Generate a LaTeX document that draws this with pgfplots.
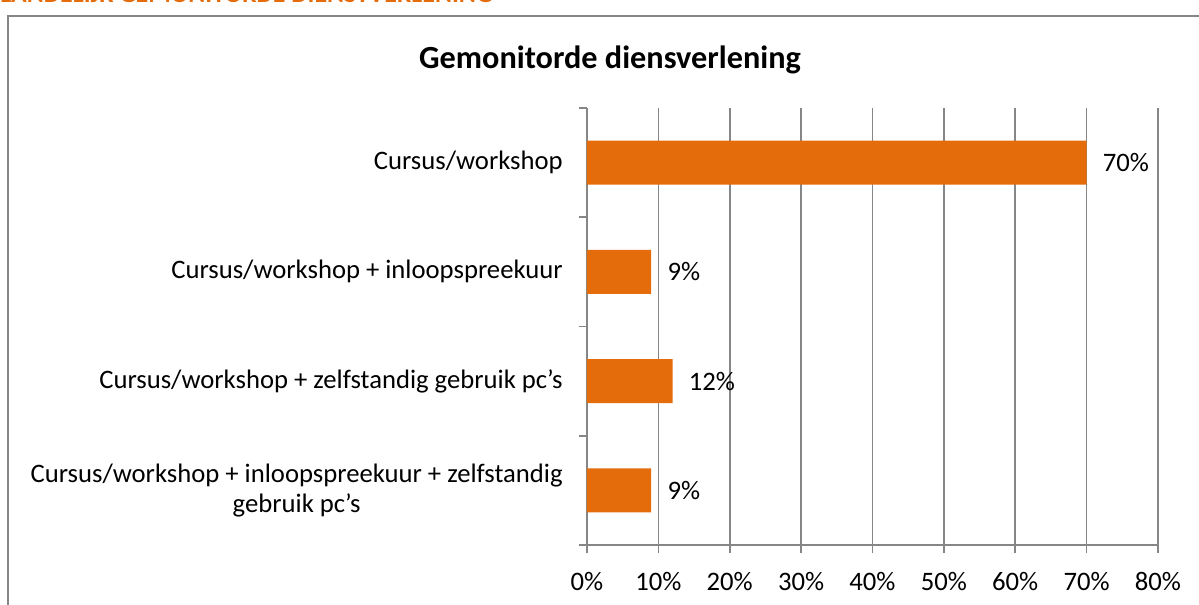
\documentclass[border=0pt]{standalone}
\usepackage{pgfplots}
\pgfplotsset{compat=1.18}
\usepackage{fontspec}
\setmainfont{Carlito}
\definecolor{barorange}{HTML}{E46C0A}
\definecolor{axgray}{HTML}{868686}
\begin{document}
\begin{tikzpicture}
\useasboundingbox (0,0) rectangle (899.25pt,453pt);
\clip (0,0) rectangle (899.25pt,453pt);
% header text (partly cut off at top, as in the reference)
\node[anchor=base west, inner sep=0pt, text=barorange, font=\fontsize{19.4}{22}\selectfont\bfseries]
  at (0pt,{453pt-2.5*0.75pt}) {LANDELIJK GEMONITORDE DIENSTVERLENING};
% outer chart frame
\draw[axgray, line width=1.5pt] ({8*0.75pt},{-20pt}) -- ({8*0.75pt},{453pt-16*0.75pt}) -- (920pt,{453pt-16*0.75pt});
% title
\node[font=\fontsize{24.2}{28}\selectfont\bfseries] at ({610*0.75pt},{453pt-60*0.75pt}) {Gemonitorde diensverlening};
\begin{axis}[
  at={(440.25pt,44.25pt)}, anchor=south west,
  scale only axis, width=428.25pt, height=327.75pt,
  xbar, bar width=33pt,
  xmin=0, xmax=80, ymin=-0.5, ymax=3.5, y dir=reverse,
  xtick={0,10,...,80},
  xticklabel={\pgfmathprintnumber{\tick}\%},
  /pgf/number format/assume math mode=true,
  ytick={0,1,2,3},
  yticklabels={Cursus/workshop, Cursus/workshop + inloopspreekuur, Cursus/workshop + zelfstandig gebruik pc’s, {Cursus/workshop + inloopspreekuur + zelfstandig\\gebruik pc’s}},
  minor ytick={-0.5,0.5,1.5,2.5,3.5},
  axis x line*=bottom, axis y line*=left,
  axis line style={axgray, line width=1.2pt},
  xmajorgrids, grid style={axgray, line width=1.2pt},
  tick align=outside,
  major tick length=6pt, minor tick length=6pt,
  tick style={axgray, line width=1.2pt},
  every major y tick/.style={draw=none},
  yticklabel style={font=\fontsize{20}{22.5}\selectfont, align=center, inner sep=0pt, xshift=-12pt},
  xticklabel style={font=\fontsize{20}{22}\selectfont, inner sep=0pt, yshift=-14pt},
  nodes near coords={\pgfmathprintnumber{\pgfplotspointmeta}\%},
  nodes near coords style={anchor=west, inner sep=0pt, xshift=12pt, font=\fontsize{20}{22}\selectfont, /pgf/number format/assume math mode=true},
  clip=false,
]
\addplot[fill=barorange, draw=none] coordinates {(70,0) (9,1) (12,2) (9,3)};
\end{axis}
\end{tikzpicture}
\end{document}
